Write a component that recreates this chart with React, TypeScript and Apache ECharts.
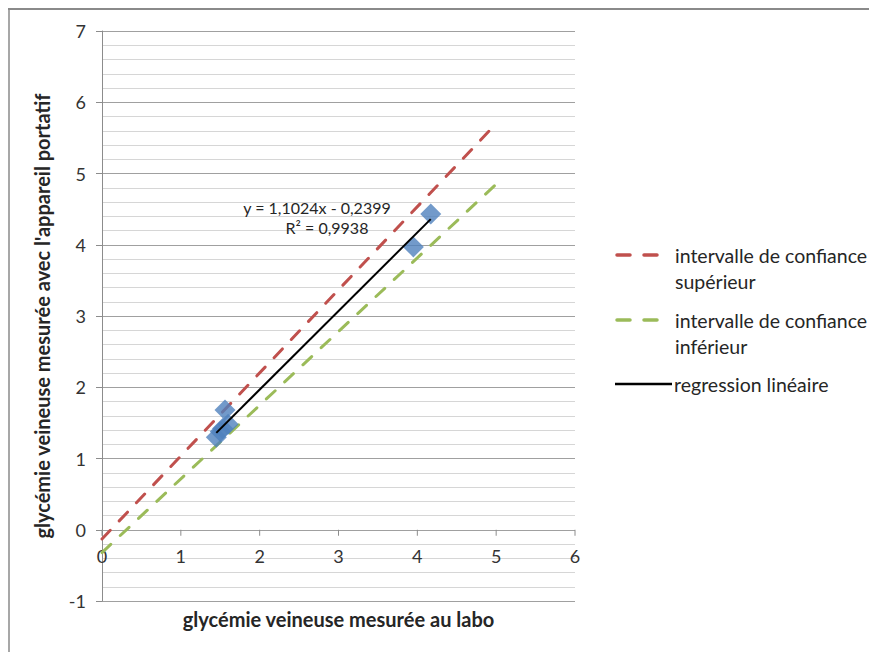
import React, { useEffect, useRef } from "react";
import * as echarts from "echarts";

const laboX = [1.45, 1.5, 1.6, 1.56, 1.53, 3.95, 4.17];
const portatifY = [1.3, 1.38, 1.48, 1.68, 1.42, 3.97, 4.43];
const regX = [1.45, 4.17];
const regY = [1.36, 4.36];
const ciX = [0, 5];
const upperY = [-0.13, 5.7];
const lowerY = [-0.32, 4.85];
const xTicks = [0, 6, 1];
const yTicks = [-1, 7, 1];
const xTickValues = [0, 1, 2, 3, 4, 5, 6];
const legendNames = [
  "intervalle de confiance\nsupérieur",
  "intervalle de confiance\ninférieur",
  "regression linéaire",
];
const eqLine1 = "y = 1,1024x - 0,2399";
const eqLine2 = "R² = 0,9938";
const xName = "glycémie veineuse mesurée au labo";
const yName = "glycémie veineuse mesurée avec l'appareil portatif";

const FONT = "Lato, 'Liberation Sans', sans-serif";
const RED = "#c0504d";
const GREEN = "#9bbb59";
const BLUE = "#4f81bd";
const AXIS = "#8c8c8c";

const pairs = (xs: number[], ys: number[]) => xs.map((x, i) => [x, ys[i]]);

export default function App() {
  const ref = useRef<HTMLDivElement>(null);
  useEffect(() => {
    if (!ref.current) return;
    const chart = echarts.init(ref.current, undefined, { renderer: "svg" });
    const dash = { width: 3, type: [12, 13] as any, cap: "round" as any };
    chart.setOption({
      animation: false,
      backgroundColor: "#ffffff",
      grid: { left: 94, top: 23, right: 302, bottom: 51, containLabel: false, outerBoundsMode: "none" },
      xAxis: {
        type: "value",
        min: xTicks[0],
        max: xTicks[1],
        interval: xTicks[2],
        name: xName,
        nameLocation: "middle",
        nameGap: 8,
        nameMoveOverlap: false,
        nameTextStyle: { fontFamily: FONT, fontWeight: "bold", fontSize: 20, color: "#262626" },
        axisLine: { show: false, onZero: false },
        axisTick: { show: false },
        axisLabel: { margin: -54, fontFamily: FONT, fontSize: 18, color: "#333" },
        splitLine: { show: false },
      },
      yAxis: {
        type: "value",
        min: yTicks[0],
        max: yTicks[1],
        interval: yTicks[2],
        name: yName,
        nameLocation: "middle",
        nameGap: 50,
        nameMoveOverlap: false,
        nameTextStyle: { fontFamily: FONT, fontWeight: "bold", fontSize: 20, color: "#262626" },
        axisLine: { show: true, onZero: false, lineStyle: { color: AXIS, width: 1 } },
        axisTick: { show: true, length: 6, lineStyle: { color: AXIS } },
        axisLabel: { margin: 16, fontFamily: FONT, fontSize: 18, color: "#333" },
        splitLine: { show: true, lineStyle: { color: "#a0a0a0", width: 1 } },
        minorTick: { show: false, splitNumber: 5 },
        minorSplitLine: { show: true, lineStyle: { color: "#d6d6d6", width: 1 } },
      },
      series: [
        {
          name: "axe x",
          type: "custom",
          data: xTickValues.map((v) => [v, 0]),
          silent: true,
          z: 2,
          renderItem: (params: any, api: any) => {
            const p = api.coord([api.value(0), api.value(1)]);
            return {
              type: "line",
              shape: { x1: p[0], y1: p[1], x2: p[0], y2: p[1] + 6 },
              style: { stroke: AXIS, lineWidth: 1 },
            };
          },
        },
        {
          name: legendNames[0],
          type: "line",
          data: pairs(ciX, upperY),
          showSymbol: false,
          symbol: "none",
          lineStyle: { ...dash, color: RED },
          z: 3,
        },
        {
          name: legendNames[1],
          type: "line",
          data: pairs(ciX, lowerY),
          showSymbol: false,
          symbol: "none",
          lineStyle: { ...dash, color: GREEN },
          z: 3,
        },
        {
          name: "mesures",
          type: "scatter",
          data: pairs(laboX, portatifY),
          symbol: "diamond",
          symbolSize: 21,
          itemStyle: { color: BLUE },
          z: 4,
        },
        {
          name: legendNames[2],
          type: "line",
          data: pairs(regX, regY),
          showSymbol: false,
          symbol: "none",
          lineStyle: { width: 2, color: "#000" },
          z: 5,
        },
      ],
      graphic: [
        { type: "line", shape: { x1: 0, y1: 1, x2: 869, y2: 1 }, style: { stroke: "#8a8a8a", lineWidth: 2 } },
        { type: "line", shape: { x1: 1, y1: 0, x2: 1, y2: 644 }, style: { stroke: "#8a8a8a", lineWidth: 1.5 } },
        {
          type: "text",
          style: { text: eqLine1, x: 309, y: 199, align: "center", verticalAlign: "middle", font: `16px ${FONT}`, fill: "#262626" },
          z: 10,
        },
        {
          type: "text",
          style: { text: eqLine2, x: 319, y: 219, align: "center", verticalAlign: "middle", font: `16px ${FONT}`, fill: "#262626" },
          z: 10,
        },
        { type: "line", shape: { x1: 609, y1: 247, x2: 651, y2: 247 }, style: { stroke: RED, lineWidth: 3.5, lineDash: [13, 14], lineCap: "round" } },
        { type: "text", style: { text: legendNames[0], x: 667, y: 234, verticalAlign: "top", lineHeight: 26, font: `19.5px ${FONT}`, fill: "#262626" } },
        { type: "line", shape: { x1: 609, y1: 312, x2: 651, y2: 312 }, style: { stroke: GREEN, lineWidth: 3.5, lineDash: [13, 14], lineCap: "round" } },
        { type: "text", style: { text: legendNames[1], x: 667, y: 299, verticalAlign: "top", lineHeight: 26, font: `19.5px ${FONT}`, fill: "#262626" } },
        { type: "line", shape: { x1: 607, y1: 376, x2: 664, y2: 376 }, style: { stroke: "#000", lineWidth: 2.5 } },
        { type: "text", style: { text: legendNames[2], x: 666, y: 363, verticalAlign: "top", lineHeight: 26, font: `19.5px ${FONT}`, fill: "#262626" } },
      ],
    });
    return () => chart.dispose();
  }, []);
  return <div ref={ref} style={{ width: 869, height: 644 }} />;
}
